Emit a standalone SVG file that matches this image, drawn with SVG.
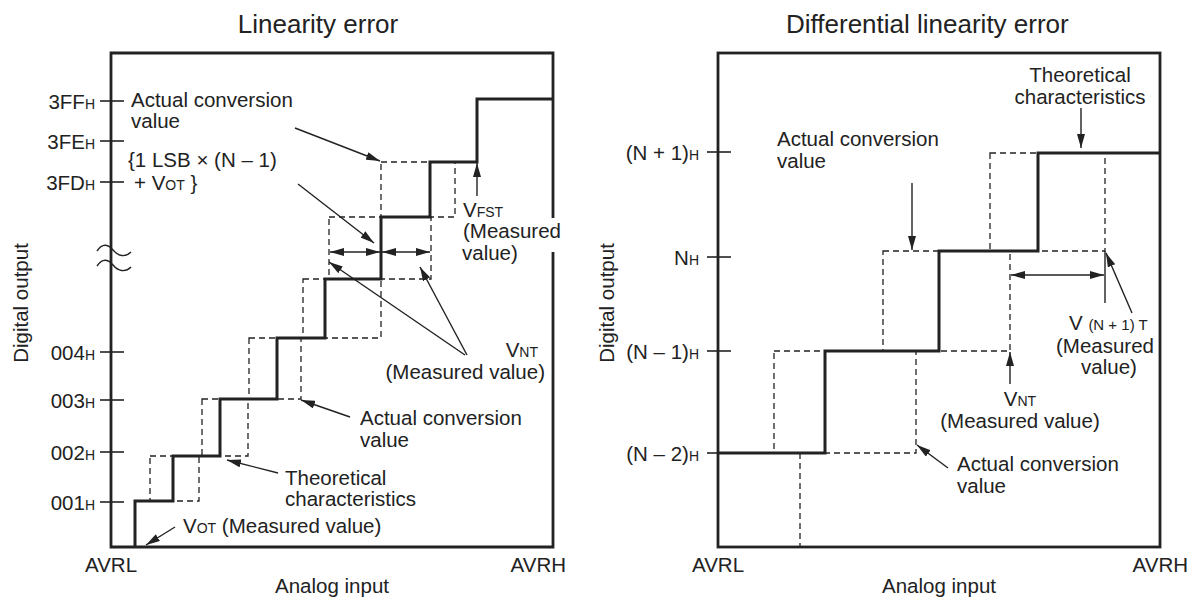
<svg xmlns="http://www.w3.org/2000/svg" width="1195" height="600" viewBox="0 0 1195 600">
<style>
text{font-family:"Liberation Sans",Arial,Helvetica,sans-serif;font-size:20.5px;fill:#222}
.title{font-size:26px}
.sub{font-size:14px}
.sm{font-size:15px}
.end{text-anchor:end}
.mid{text-anchor:middle}
.frame{fill:none;stroke:#222;stroke-width:2.8}
.thick{fill:none;stroke:#222;stroke-width:3;stroke-linejoin:miter}
.dash{fill:none;stroke:#222;stroke-width:1.3;stroke-dasharray:6 4}
.tick{stroke:#222;stroke-width:1.6}
.thin{fill:none;stroke:#222;stroke-width:1.4}
.arr{fill:none;stroke:#222;stroke-width:1.4;marker-end:url(#ah)}
.darr{fill:none;stroke:#222;stroke-width:1.4;marker-end:url(#ah);marker-start:url(#ah)}
</style>
<defs>
<marker id="ah" viewBox="0 0 14 8" refX="14" refY="4" markerWidth="14" markerHeight="8" markerUnits="userSpaceOnUse" orient="auto-start-reverse">
<path d="M0,0 L14,4 L0,8 z" fill="#222"/>
</marker>
</defs>
<rect width="1195" height="600" fill="#fff"/>

<g id="left-chart">
<text class="title mid" x="318" y="33">Linearity error</text>
<path class="frame" d="M553,218 V53 H111 V547 H553 V252"/>
<path class="thin" d="M97,251 C103,242 109,245 113,250 C118,256 125,258 131,252"/>
<path class="thin" d="M97,266 C103,257 109,260 113,265 C118,271 125,273 131,267"/>
<g id="left-ticks">
<line class="tick" x1="100" y1="101" x2="124" y2="101"/>
<line class="tick" x1="100" y1="141" x2="124" y2="141"/>
<line class="tick" x1="100" y1="182" x2="124" y2="182"/>
<line class="tick" x1="100" y1="352" x2="124" y2="352"/>
<line class="tick" x1="100" y1="400" x2="124" y2="400"/>
<line class="tick" x1="100" y1="452" x2="124" y2="452"/>
<line class="tick" x1="100" y1="502" x2="124" y2="502"/>
</g>
<text class="end" x="95" y="108.5">3FF<tspan class="sub">H</tspan></text>
<text class="end" x="95" y="149">3FE<tspan class="sub">H</tspan></text>
<text class="end" x="95" y="190">3FD<tspan class="sub">H</tspan></text>
<text class="end" x="95" y="360">004<tspan class="sub">H</tspan></text>
<text class="end" x="95" y="408">003<tspan class="sub">H</tspan></text>
<text class="end" x="95" y="460">002<tspan class="sub">H</tspan></text>
<text class="end" x="95" y="510">001<tspan class="sub">H</tspan></text>
<g id="left-actual">
<rect class="dash" x="150" y="456" width="49" height="45"/>
<rect class="dash" x="202" y="399" width="46" height="57"/>
<rect class="dash" x="249" y="338" width="52" height="61"/>
<rect class="dash" x="303" y="279" width="78" height="59"/>
<rect class="dash" x="329" y="217" width="102" height="62"/>
<rect class="dash" x="381" y="162" width="74" height="55"/>
</g>
<path id="left-theoretical" class="thick" d="M135,547 V501 H173 V456 H220 V399 H277 V338 H325 V279 H381 V217 H430 V162 H477 V99 H553"/>
<text x="131" y="107">Actual conversion</text>
<text x="131" y="128">value</text>
<text x="128" y="167">{1 LSB × (N – 1)</text>
<text x="134" y="190">+ V<tspan class="sub">OT</tspan> }</text>
<text x="463" y="217">V<tspan class="sub">FST</tspan></text>
<text x="463" y="238">(Measured</text>
<text x="462" y="260">value)</text>
<text class="end" x="538" y="357">V<tspan class="sub">NT</tspan></text>
<text class="end" x="545" y="379">(Measured value)</text>
<text x="360" y="425">Actual conversion</text>
<text x="360" y="447">value</text>
<text x="285" y="485">Theoretical</text>
<text x="285" y="506">characteristics</text>
<text x="183" y="533">V<tspan class="sub">OT</tspan> (Measured value)</text>
<text x="85" y="572">AVRL</text>
<text class="end" x="566" y="572">AVRH</text>
<text class="mid" x="332" y="593">Analog input</text>
<text class="mid" transform="translate(28,303) rotate(-90)">Digital output</text>
</g>

<g id="right-chart">
<text class="title" x="786" y="33">Differential linearity error</text>
<rect class="frame" x="718" y="53" width="442" height="494"/>
<g id="right-ticks">
<line class="tick" x1="707" y1="152" x2="731" y2="152"/>
<line class="tick" x1="707" y1="257" x2="731" y2="257"/>
<line class="tick" x1="707" y1="351" x2="731" y2="351"/>
<line class="tick" x1="707" y1="453" x2="731" y2="453"/>
</g>
<text class="end" x="699" y="160">(N + 1)<tspan class="sub">H</tspan></text>
<text class="end" x="699" y="265">N<tspan class="sub">H</tspan></text>
<text class="end" x="699" y="359">(N – 1)<tspan class="sub">H</tspan></text>
<text class="end" x="699" y="461">(N – 2)<tspan class="sub">H</tspan></text>
<g id="right-actual">
<rect class="dash" x="774" y="351" width="142" height="102"/>
<rect class="dash" x="883" y="251" width="127" height="100"/>
<rect class="dash" x="990" y="153" width="115" height="98"/>
<line class="dash" x1="800" y1="453" x2="800" y2="547"/>
</g>
<path id="right-theoretical" class="thick" d="M718,453 H825 V351 H939 V251 H1038 V153 H1160"/>
<line class="thin" x1="1105" y1="251" x2="1105" y2="303"/>
<text x="777" y="146">Actual conversion</text>
<text x="777" y="168">value</text>
<text class="mid" x="1080" y="82">Theoretical</text>
<text class="mid" x="1080" y="104">characteristics</text>
<text x="1069" y="330">V <tspan class="sm">(N + 1) T</tspan></text>
<text x="1056" y="353">(Measured</text>
<text class="mid" x="1109" y="374">value)</text>
<text class="mid" x="1020" y="406">V<tspan class="sub">NT</tspan></text>
<text class="mid" x="1020" y="428">(Measured value)</text>
<text x="957" y="471">Actual conversion</text>
<text x="957" y="493">value</text>
<text x="692" y="572">AVRL</text>
<text class="end" x="1188" y="572">AVRH</text>
<text class="mid" x="939" y="593">Analog input</text>
<text class="mid" transform="translate(614,303) rotate(-90)">Digital output</text>
</g>

<g id="connectors">
<line class="arr" x1="295" y1="128" x2="380" y2="161"/>
<line class="arr" x1="298" y1="184" x2="374" y2="243"/>
<line class="arr" x1="477" y1="196" x2="477" y2="163"/>
<line class="darr" x1="330" y1="252" x2="380" y2="252"/>
<line class="darr" x1="382" y1="252" x2="430" y2="252"/>
<line class="arr" x1="465" y1="355" x2="329" y2="262"/>
<line class="arr" x1="467" y1="355" x2="420" y2="267"/>
<line class="arr" x1="350" y1="417" x2="301" y2="400"/>
<line class="arr" x1="278" y1="473" x2="227" y2="460"/>
<line class="arr" x1="175" y1="527" x2="146" y2="545"/>
<line class="arr" x1="912" y1="183" x2="912" y2="250"/>
<line class="arr" x1="1081" y1="108" x2="1081" y2="148"/>
<line class="darr" x1="1011" y1="275" x2="1104" y2="275"/>
<line class="arr" x1="1132" y1="313" x2="1106" y2="253"/>
<line class="arr" x1="1010" y1="384" x2="1010" y2="352"/>
<line class="arr" x1="948" y1="468" x2="917" y2="445"/>
</g>
</svg>
